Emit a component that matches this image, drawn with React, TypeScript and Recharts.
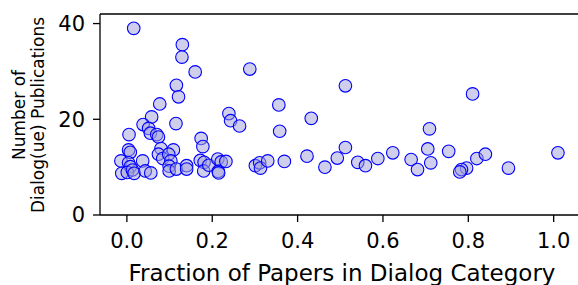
import React from 'react'
import { ScatterChart, Scatter, XAxis, YAxis, ReferenceLine } from 'recharts'

// fraction of papers in dialog category, per venue/year
const fracDialog = [
    0.016, 0.130, 0.129, 0.160, 0.116, 0.121, 0.077, 0.058, 0.038, 0.051,
    0.055, 0.070, 0.074, 0.005, 0.115, 0.004, 0.008, 0.080, 0.109, 0.074,
    0.084, 0.098, 0.103, -0.014, 0.037, 0.004, 0.008, -0.012, 0.001, 0.013,
    0.017, 0.043, 0.056, 0.099, 0.099, 0.116, 0.140, 0.140,
    0.239, 0.243, 0.264, 0.174, 0.178, 0.172, 0.181, 0.180, 0.192, 0.213,
    0.221, 0.232, 0.214, 0.215, 0.288, 0.301, 0.311, 0.313, 0.330,
    0.512, 0.356, 0.432, 0.358, 0.512, 0.422, 0.623, 0.493, 0.588, 0.666,
    0.681, 0.369, 0.541, 0.559, 0.464, 0.810, 0.709, 0.705, 0.712, 0.754,
    0.820, 0.840, 0.796, 0.784, 0.780, 0.894, 1.010,
]

// number of dialog(ue) publications
const numPubs = [
    39.0, 35.6, 33.0, 29.9, 27.1, 24.7, 23.2, 20.5, 18.9, 18.1,
    17.1, 16.8, 16.3, 16.8, 19.1, 13.6, 13.1, 13.9, 13.6, 12.7,
    11.8, 12.7, 11.3, 11.3, 11.3, 10.9, 10.1, 8.7, 8.9, 9.4,
    8.7, 9.2, 8.8, 10.2, 9.2, 9.6, 10.3, 9.6,
    21.2, 19.7, 18.6, 16.0, 14.3, 11.4, 11.0, 9.2, 10.4, 11.7,
    11.1, 11.2, 9.1, 8.8, 30.5, 10.3, 10.9, 9.8, 11.3,
    27.0, 23.0, 20.2, 17.5, 14.1, 12.3, 13.0, 11.9, 11.8, 11.6,
    9.5, 11.2, 11.0, 10.3, 10.0, 25.3, 18.0, 13.8, 10.9, 13.3,
    11.8, 12.7, 9.8, 9.5, 9.0, 9.8, 13.0,
]

const xTicks = [0, 0.2, 0.4, 0.6, 0.8, 1.0]
const yTicks = [0, 20, 40]

const font = 'DejaVu Sans'

export default function App() {
    const data = fracDialog.map((x, i) => ({ x, y: numPubs[i] }))

    return (
        <div style={{ position: 'absolute', left: 0, top: 0, background: '#fff' }}>
            <ScatterChart width={578} height={285} margin={{ top: 14, right: 0, bottom: 0, left: 0 }}>
                <XAxis
                    type="number"
                    dataKey="x"
                    domain={[-0.063, 1.057]}
                    ticks={xTicks}
                    allowDataOverflow
                    tickFormatter={(v) => v.toFixed(1)}
                    height={70}
                    tickSize={7}
                    tickMargin={11}
                    stroke="#000"
                    axisLine={{ stroke: '#000', strokeWidth: 1.3 }}
                    tickLine={{ stroke: '#000', strokeWidth: 1.3 }}
                    tick={{ fill: '#000', fontSize: 21, fontFamily: font }}
                    label={{
                        content: () => (
                            <text x={342} y={281} textAnchor="middle" fontSize={23} fontFamily={font} fill="#000">
                                Fraction of Papers in Dialog Category
                            </text>
                        ),
                    }}
                />
                <YAxis
                    type="number"
                    dataKey="y"
                    domain={[0, 42]}
                    ticks={yTicks}
                    allowDataOverflow
                    width={100}
                    tickSize={7}
                    tickMargin={8}
                    stroke="#000"
                    axisLine={{ stroke: '#000', strokeWidth: 1.3 }}
                    tickLine={{ stroke: '#000', strokeWidth: 1.3 }}
                    tick={{ fill: '#000', fontSize: 21, fontFamily: font }}
                    label={{
                        content: () => (
                            <g transform="translate(29,115) rotate(-90)">
                                <text textAnchor="middle" fontSize={17} fontFamily={font} fill="#000">
                                    <tspan x={0} y={-4}>Number of</tspan>
                                    <tspan x={0} y={15}>Dialog(ue) Publications</tspan>
                                </text>
                            </g>
                        ),
                    }}
                />
                <ReferenceLine y={42} stroke="#000" strokeWidth={1.3} />
                <Scatter
                    data={data}
                    isAnimationActive={false}
                    shape={(p: any) => (
                        <circle
                            cx={p.cx}
                            cy={p.cy}
                            r={6.3}
                            fill="#a0a0d8"
                            fillOpacity={0.5}
                            stroke="#0000ff"
                            strokeWidth={1.1}
                        />
                    )}
                />
            </ScatterChart>
        </div>
    )
}
